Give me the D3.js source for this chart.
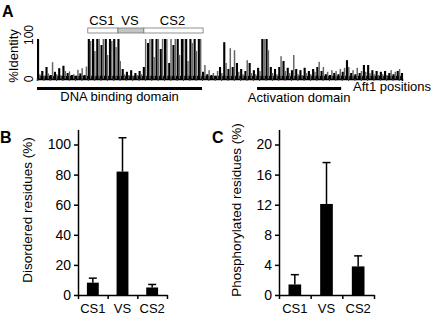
<!DOCTYPE html>
<html>
<head>
<meta charset="utf-8">
<script src="https://cdn.jsdelivr.net/npm/d3@7"></script>
<style>
  body { margin: 0; background: #fff; }
  svg { font-family: "Liberation Sans", Arial, sans-serif; }
</style>
</head>
<body>
<script>
// ---- panel A: % identity along Aft1 (one value every 4 residues) ----
var aftLength = 690;
var residueStep = 4;
var identity = [
  100, 12, 20, 8, 30, 14, 10, 42, 18, 12, 27, 9, 33, 20, 15, 19, 10, 12, 8, 23, 14, 27, 10, 31,
  100, 95, 100, 70, 100, 100, 85, 100, 100, 60, 100, 95, 100, 80, 100,
  45, 25, 12, 18, 10, 22, 8, 15, 10, 20, 12, 30,
  100, 90, 100, 100, 55, 100, 100, 75, 100, 100, 100, 40, 100, 85, 100, 100, 60, 100, 100, 100, 45, 100, 90, 100, 70, 100, 100,
  18, 35, 12, 22, 10, 15, 8, 20, 30, 15, 92, 40, 25, 77, 30, 72, 40, 18, 25, 12,
  20, 47, 40, 15, 22, 12, 28, 20, 100, 100, 100, 72, 30, 15, 25, 12, 30, 57, 45, 20,
  28, 15, 22, 60, 25, 12, 22, 10, 28, 15, 20, 12, 25, 18, 30, 43, 20, 30, 12, 18,
  10, 22, 15, 20, 12, 25, 18, 28, 47, 30, 15, 22, 12, 28, 15, 20, 35, 18, 35, 15,
  22, 12, 20, 10, 18, 12, 20, 10, 15, 22, 12, 18, 20, 25, 15
];
var regions = [
  {name: "CS1", start: 96, end: 153, fill: "#fff"},
  {name: "VS", start: 153, end: 202, fill: "#c4c4c4"},
  {name: "CS2", start: 202, end: 314, fill: "#fff"}
];
var domains = [
  {name: "DNA binding domain", start: 0, end: 312},
  {name: "Activation domain", start: 416, end: 575}
];

// ---- panels B and C ----
var categories = ["CS1", "VS", "CS2"];
var disordered = [8.2, 82, 5];
var disorderedErr = [3, 22.5, 2];
var phospho = [1.4, 12.1, 3.8];
var phosphoErr = [1.3, 5.5, 1.4];
var disorderedTicks = [0, 20, 40, 60, 80, 100];
var phosphoTicks = [0, 4, 8, 12, 16, 20];

var svg = d3.select("body").append("svg")
    .attr("width", 436)
    .attr("height", 320);

// panel A
var xA = d3.scaleLinear().domain([0, aftLength]).range([37, 402]);
var yA = d3.scaleLinear().domain([0, 100]).range([79, 39]);
var stepPx = xA(residueStep) - xA(0);

svg.append("text").attr("x", 2).attr("y", 17)
    .attr("font-size", 16).attr("font-weight", "bold").text("A");

var gA = svg.append("g");
// solid dark base band
gA.append("rect")
    .attr("x", xA(0)).attr("width", xA(aftLength) - xA(0))
    .attr("y", yA(8)).attr("height", yA(0) - yA(8))
    .attr("fill", "#000");
gA.selectAll("rect.idt")
  .data(identity)
  .enter().append("rect")
    .attr("class", "idt")
    .attr("x", function(d, i) { return xA(i * residueStep); })
    .attr("width", function(d, i) { return i % 2 == 0 ? stepPx : stepPx * 0.7; })
    .attr("y", function(d) { return yA(d); })
    .attr("height", function(d) { return yA(0) - yA(d); })
    .attr("fill", function(d, i) { return i % 2 == 1 ? "#666" : "#000"; });

// base line and small ticks
gA.append("g")
    .attr("transform", "translate(0," + yA(0) + ")")
    .call(d3.axisBottom(xA).tickValues(d3.range(0, aftLength + 1, 12)).tickSize(2).tickFormat(""))
    .call(function(g) { g.select(".domain").attr("stroke-width", 1.5); })
    .selectAll(".tick line").attr("stroke", "#444");

svg.append("text")
    .attr("transform", "translate(18,56)rotate(-90)")
    .attr("text-anchor", "middle").attr("font-size", 13).text("%Identity");
svg.append("text")
    .attr("transform", "translate(33," + (yA(100) - 4) + ")rotate(-90)")
    .attr("text-anchor", "middle").attr("font-size", 12).text("100");
svg.append("text")
    .attr("transform", "translate(33," + yA(0) + ")rotate(-90)")
    .attr("text-anchor", "middle").attr("font-size", 12).text("0");

// region boxes
svg.selectAll("rect.region")
  .data(regions)
  .enter().append("rect")
    .attr("class", "region")
    .attr("x", function(d) { return xA(d.start); })
    .attr("width", function(d) { return xA(d.end) - xA(d.start); })
    .attr("y", 28).attr("height", 5)
    .attr("fill", function(d) { return d.fill; })
    .attr("stroke", "#777").attr("stroke-width", 0.8);
svg.selectAll("text.region")
  .data(regions)
  .enter().append("text")
    .attr("class", "region")
    .attr("x", function(d) { return (xA(d.start) + xA(d.end)) / 2 - 1; })
    .attr("y", 25)
    .attr("text-anchor", "middle").attr("font-size", 13)
    .text(function(d) { return d.name; });

// domain bars
svg.selectAll("rect.dom")
  .data(domains)
  .enter().append("rect")
    .attr("class", "dom")
    .attr("x", function(d) { return xA(d.start); })
    .attr("width", function(d) { return xA(d.end) - xA(d.start); })
    .attr("y", 87).attr("height", 3).attr("fill", "#000");
svg.selectAll("text.dom")
  .data(domains)
  .enter().append("text")
    .attr("class", "dom")
    .attr("x", function(d) { return (xA(d.start) + xA(d.end)) / 2; })
    .attr("y", function(d, i) { return i == 0 ? 101 : 102; })
    .attr("text-anchor", "middle").attr("font-size", 13)
    .text(function(d) { return d.name; });
svg.append("text").attr("x", 353).attr("y", 91)
    .attr("font-size", 13).text("Aft1 positions");

// bar panels
function barPanel(letter, lx, x0, x1, values, errs, ticks, ymax, label, labelX) {
  var y = d3.scaleLinear().domain([0, ymax]).range([295, 295 - ymax * (150.5 / ticks[ticks.length - 1])]);
  var x = d3.scaleBand().domain(categories).range([x0, x1]).padding(0);
  var xl = d3.scaleLinear().domain([0, categories.length]).range([x0, x1]);
  var bw = x.bandwidth() * 0.4;

  svg.append("text").attr("x", lx).attr("y", 143)
      .attr("font-size", 16).attr("font-weight", "bold").text(letter);

  svg.append("text")
      .attr("transform", "translate(" + labelX + ",210)rotate(-90)")
      .attr("text-anchor", "middle").attr("font-size", 13.5).text(label);

  var g = svg.append("g");
  g.selectAll("rect.bar")
    .data(values)
    .enter().append("rect")
      .attr("class", "bar")
      .attr("x", function(d, i) { return x(categories[i]) + x.bandwidth() / 2 - bw / 2; })
      .attr("width", bw)
      .attr("y", function(d) { return y(d); })
      .attr("height", function(d) { return y(0) - y(d); })
      .attr("fill", "#000");

  // error bars (upper only)
  g.selectAll("line.err")
    .data(values)
    .enter().append("line")
      .attr("x1", function(d, i) { return x(categories[i]) + x.bandwidth() / 2; })
      .attr("x2", function(d, i) { return x(categories[i]) + x.bandwidth() / 2; })
      .attr("y1", function(d) { return y(d); })
      .attr("y2", function(d, i) { return y(d + errs[i]); })
      .attr("stroke", "#000").attr("stroke-width", 1.5);
  g.selectAll("line.cap")
    .data(values)
    .enter().append("line")
      .attr("x1", function(d, i) { return x(categories[i]) + x.bandwidth() / 2 - 4; })
      .attr("x2", function(d, i) { return x(categories[i]) + x.bandwidth() / 2 + 4; })
      .attr("y1", function(d, i) { return y(d + errs[i]); })
      .attr("y2", function(d, i) { return y(d + errs[i]); })
      .attr("stroke", "#000").attr("stroke-width", 1.5);

  // y axis
  g.append("g")
      .attr("transform", "translate(" + x0 + ",0)")
      .call(d3.axisLeft(y).tickValues(ticks).tickSize(4).tickSizeOuter(0).tickPadding(3))
      .call(function(a) {
        a.selectAll("path, line").attr("stroke-width", 1.5);
        a.selectAll("text").attr("font-size", 14).attr("font-family", "Liberation Sans, Arial, sans-serif");
      });

  // x axis with ticks between categories
  g.append("g")
      .attr("transform", "translate(0," + y(0) + ")")
      .call(d3.axisBottom(xl).tickValues(d3.range(0, categories.length + 1)).tickSize(4).tickSizeOuter(0).tickFormat(""))
      .call(function(a) { a.selectAll("path, line").attr("stroke-width", 1.5); });

  g.append("g")
      .attr("transform", "translate(0," + y(0) + ")")
      .call(d3.axisBottom(x).tickSize(0).tickPadding(9))
      .call(function(a) {
        a.select(".domain").remove();
        a.selectAll("text").attr("font-size", 13).attr("font-family", "Liberation Sans, Arial, sans-serif");
      });
}

barPanel("B", 0, 78, 167, disordered, disorderedErr, disorderedTicks, 110, "Disordered residues (%)", 32);
barPanel("C", 212, 279, 374, phospho, phosphoErr, phosphoTicks, 22, "Phosphorylated residues (%)", 241);
</script>
</body>
</html>
